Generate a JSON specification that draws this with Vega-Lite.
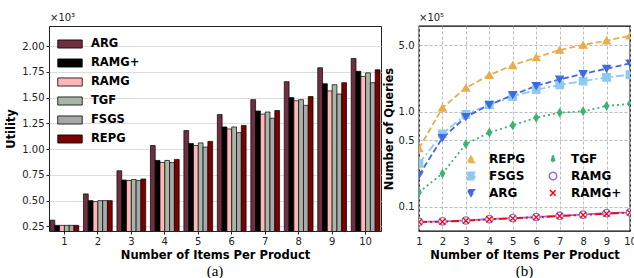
{
  "$schema": "https://vega.github.io/schema/vega-lite/v6.json",
  "padding": {"left": 5, "top": 12, "right": 0, "bottom": 0},
  "spacing": 0,
  "resolve": {
    "scale": {"fill": "independent", "stroke": "independent", "shape": "independent", "strokeDash": "independent"},
    "legend": {"fill": "independent", "stroke": "independent", "shape": "independent", "strokeDash": "independent"}
  },
  "config": {
    "font": "DejaVu Sans",
    "view": {"stroke": "#222", "strokeWidth": 1},
    "axis": {"labelFont": "DejaVu Sans", "labelFontSize": 10, "labelColor": "#222", "labelOverlap": false, "titleFont": "DejaVu Sans", "titleFontSize": 11.5, "titleFontWeight": "bold", "titleColor": "black", "domain": false, "tickColor": "#222"}
  },
  "datasets": {
    "util": [
      {"items": 1, "method": "ARG", "utility": 0.31}, {"items": 1, "method": "RAMG+", "utility": 0.26}, {"items": 1, "method": "RAMG", "utility": 0.26}, {"items": 1, "method": "TGF", "utility": 0.26}, {"items": 1, "method": "FSGS", "utility": 0.26}, {"items": 1, "method": "REPG", "utility": 0.26},
      {"items": 2, "method": "ARG", "utility": 0.565}, {"items": 2, "method": "RAMG+", "utility": 0.50}, {"items": 2, "method": "RAMG", "utility": 0.49}, {"items": 2, "method": "TGF", "utility": 0.50}, {"items": 2, "method": "FSGS", "utility": 0.50}, {"items": 2, "method": "REPG", "utility": 0.50},
      {"items": 3, "method": "ARG", "utility": 0.79}, {"items": 3, "method": "RAMG+", "utility": 0.70}, {"items": 3, "method": "RAMG", "utility": 0.695}, {"items": 3, "method": "TGF", "utility": 0.705}, {"items": 3, "method": "FSGS", "utility": 0.695}, {"items": 3, "method": "REPG", "utility": 0.71},
      {"items": 4, "method": "ARG", "utility": 1.035}, {"items": 4, "method": "RAMG+", "utility": 0.89}, {"items": 4, "method": "RAMG", "utility": 0.87}, {"items": 4, "method": "TGF", "utility": 0.89}, {"items": 4, "method": "FSGS", "utility": 0.87}, {"items": 4, "method": "REPG", "utility": 0.90},
      {"items": 5, "method": "ARG", "utility": 1.18}, {"items": 5, "method": "RAMG+", "utility": 1.055}, {"items": 5, "method": "RAMG", "utility": 1.035}, {"items": 5, "method": "TGF", "utility": 1.06}, {"items": 5, "method": "FSGS", "utility": 1.02}, {"items": 5, "method": "REPG", "utility": 1.075},
      {"items": 6, "method": "ARG", "utility": 1.335}, {"items": 6, "method": "RAMG+", "utility": 1.215}, {"items": 6, "method": "RAMG", "utility": 1.195}, {"items": 6, "method": "TGF", "utility": 1.215}, {"items": 6, "method": "FSGS", "utility": 1.16}, {"items": 6, "method": "REPG", "utility": 1.23},
      {"items": 7, "method": "ARG", "utility": 1.48}, {"items": 7, "method": "RAMG+", "utility": 1.37}, {"items": 7, "method": "RAMG", "utility": 1.34}, {"items": 7, "method": "TGF", "utility": 1.36}, {"items": 7, "method": "FSGS", "utility": 1.30}, {"items": 7, "method": "REPG", "utility": 1.375},
      {"items": 8, "method": "ARG", "utility": 1.655}, {"items": 8, "method": "RAMG+", "utility": 1.50}, {"items": 8, "method": "RAMG", "utility": 1.47}, {"items": 8, "method": "TGF", "utility": 1.48}, {"items": 8, "method": "FSGS", "utility": 1.425}, {"items": 8, "method": "REPG", "utility": 1.51},
      {"items": 9, "method": "ARG", "utility": 1.79}, {"items": 9, "method": "RAMG+", "utility": 1.635}, {"items": 9, "method": "RAMG", "utility": 1.565}, {"items": 9, "method": "TGF", "utility": 1.625}, {"items": 9, "method": "FSGS", "utility": 1.535}, {"items": 9, "method": "REPG", "utility": 1.645},
      {"items": 10, "method": "ARG", "utility": 1.88}, {"items": 10, "method": "RAMG+", "utility": 1.755}, {"items": 10, "method": "RAMG", "utility": 1.705}, {"items": 10, "method": "TGF", "utility": 1.74}, {"items": 10, "method": "FSGS", "utility": 1.645}, {"items": 10, "method": "REPG", "utility": 1.77}
    ],
    "queries": [
      {"items": 1, "method": "REPG", "q": 0.41}, {"items": 2, "method": "REPG", "q": 1.1}, {"items": 3, "method": "REPG", "q": 1.78}, {"items": 4, "method": "REPG", "q": 2.43}, {"items": 5, "method": "REPG", "q": 3.08}, {"items": 6, "method": "REPG", "q": 3.72}, {"items": 7, "method": "REPG", "q": 4.46}, {"items": 8, "method": "REPG", "q": 5.04}, {"items": 9, "method": "REPG", "q": 5.6}, {"items": 10, "method": "REPG", "q": 6.3},
      {"items": 1, "method": "TGF", "q": 0.142}, {"items": 2, "method": "TGF", "q": 0.224}, {"items": 3, "method": "TGF", "q": 0.456}, {"items": 4, "method": "TGF", "q": 0.605}, {"items": 5, "method": "TGF", "q": 0.72}, {"items": 6, "method": "TGF", "q": 0.865}, {"items": 7, "method": "TGF", "q": 0.976}, {"items": 8, "method": "TGF", "q": 1.01}, {"items": 9, "method": "TGF", "q": 1.15}, {"items": 10, "method": "TGF", "q": 1.21},
      {"items": 1, "method": "FSGS", "q": 0.285}, {"items": 2, "method": "FSGS", "q": 0.585}, {"items": 3, "method": "FSGS", "q": 0.935}, {"items": 4, "method": "FSGS", "q": 1.19}, {"items": 5, "method": "FSGS", "q": 1.44}, {"items": 6, "method": "FSGS", "q": 1.71}, {"items": 7, "method": "FSGS", "q": 1.91}, {"items": 8, "method": "FSGS", "q": 2.1}, {"items": 9, "method": "FSGS", "q": 2.3}, {"items": 10, "method": "FSGS", "q": 2.45},
      {"items": 1, "method": "ARG", "q": 0.215}, {"items": 2, "method": "ARG", "q": 0.53}, {"items": 3, "method": "ARG", "q": 0.88}, {"items": 4, "method": "ARG", "q": 1.18}, {"items": 5, "method": "ARG", "q": 1.5}, {"items": 6, "method": "ARG", "q": 1.87}, {"items": 7, "method": "ARG", "q": 2.19}, {"items": 8, "method": "ARG", "q": 2.5}, {"items": 9, "method": "ARG", "q": 2.84}, {"items": 10, "method": "ARG", "q": 3.23},
      {"items": 1, "method": "RAMG", "q": 0.0695}, {"items": 2, "method": "RAMG", "q": 0.0700}, {"items": 3, "method": "RAMG", "q": 0.0716}, {"items": 4, "method": "RAMG", "q": 0.0741}, {"items": 5, "method": "RAMG", "q": 0.0759}, {"items": 6, "method": "RAMG", "q": 0.0779}, {"items": 7, "method": "RAMG", "q": 0.0804}, {"items": 8, "method": "RAMG", "q": 0.0826}, {"items": 9, "method": "RAMG", "q": 0.0857}, {"items": 10, "method": "RAMG", "q": 0.0871},
      {"items": 1, "method": "RAMG+", "q": 0.069}, {"items": 2, "method": "RAMG+", "q": 0.0695}, {"items": 3, "method": "RAMG+", "q": 0.0712}, {"items": 4, "method": "RAMG+", "q": 0.0737}, {"items": 5, "method": "RAMG+", "q": 0.0755}, {"items": 6, "method": "RAMG+", "q": 0.0773}, {"items": 7, "method": "RAMG+", "q": 0.0798}, {"items": 8, "method": "RAMG+", "q": 0.0818}, {"items": 9, "method": "RAMG+", "q": 0.0844}, {"items": 10, "method": "RAMG+", "q": 0.0865}
    ]
  },
  "hconcat": [
    {
      "width": 332,
      "height": 205,
      "title": {"text": "(a)", "orient": "bottom", "font": "Liberation Serif", "fontSize": 15, "fontWeight": "normal", "color": "black", "offset": 3},
      "layer": [
        {
          "data": {"name": "util"},
          "mark": {"type": "bar", "clip": true, "stroke": "black", "strokeWidth": 0.7},
          "encoding": {
            "x": {"field": "items", "type": "ordinal", "scale": {"paddingInner": 0.14, "paddingOuter": 0.03},
                  "axis": {"title": "Number of Items Per Product", "labelAngle": 0, "tickSize": 3, "labelPadding": 2, "titlePadding": 3, "labelOverlap": false}},
            "xOffset": {"field": "method", "type": "nominal", "sort": ["ARG", "RAMG+", "RAMG", "TGF", "FSGS", "REPG"], "scale": {"paddingInner": 0, "paddingOuter": 0}},
            "y": {"field": "utility", "type": "quantitative", "scale": {"domain": [0.205, 2.195], "zero": false, "nice": false},
                  "axis": {"title": "Utility", "values": [0.25, 0.5, 0.75, 1.0, 1.25, 1.5, 1.75, 2.0], "tickCount": 20, "format": ".2f", "tickSize": 3, "labelPadding": 2, "titlePadding": 5, "labelOverlap": false}},
            "fill": {"field": "method", "type": "nominal",
                     "scale": {"domain": ["ARG", "RAMG+", "RAMG", "TGF", "FSGS", "REPG"], "range": ["#6e3040", "#000000", "#ffb6b6", "#a9b5a6", "#a8a8a8", "#7b0000"]},
                     "legend": {"title": null, "orient": "none", "legendX": 8, "legendY": 5, "symbolType": "M-1,-0.33H1V0.33H-1Z", "symbolSize": 600, "symbolStrokeColor": "black", "symbolStrokeWidth": 0.8, "symbolOpacity": 1, "labelFont": "DejaVu Sans", "labelFontWeight": "bold", "labelFontSize": 11.5, "labelColor": "black", "labelOffset": 8, "rowPadding": -7}}
          }
        },
        {
          "data": {"values": [{"t": "×10³"}]},
          "mark": {"type": "text", "align": "left", "baseline": "alphabetic", "dy": -5, "fontSize": 10, "color": "#222"},
          "encoding": {
            "text": {"field": "t"},
            "x": {"datum": 1, "type": "ordinal", "bandPosition": 0},
            "y": {"datum": 2.195, "type": "quantitative"}
          }
        }
      ]
    },
    {
      "width": 211,
      "height": 205,
      "title": {"text": "(b)", "orient": "bottom", "font": "Liberation Serif", "fontSize": 15, "fontWeight": "normal", "color": "black", "offset": 3},
      "view": {"stroke": "black", "strokeWidth": 1.3},
      "layer": [
        {
          "data": {"name": "queries"},
          "mark": {"type": "line", "strokeWidth": 1.8, "clip": true},
          "encoding": {
            "x": {"field": "items", "type": "quantitative", "scale": {"domain": [1, 10], "nice": false},
                  "axis": {"title": "Number of Items Per Product", "values": [1, 2, 3, 4, 5, 6, 7, 8, 9, 10], "tickCount": 20, "format": "d", "grid": true, "gridDash": [3, 2], "gridColor": "#bbbbbb", "ticks": false, "labelPadding": 5, "titlePadding": 3, "labelFlush": false, "labelOverlap": false}},
            "y": {"field": "q", "type": "quantitative", "scale": {"type": "log", "domain": [0.0555, 7.98], "nice": false},
                  "axis": {"title": "Number of Queries", "values": [0.1, 0.5, 1, 5], "tickCount": 20, "format": ".1f", "grid": true, "gridDash": [3, 2], "gridColor": "#bbbbbb", "ticks": false, "labelPadding": 5, "titlePadding": 4, "labelOverlap": false}},
            "stroke": {"field": "method", "type": "nominal",
                       "scale": {"domain": ["REPG", "FSGS", "ARG", "TGF", "RAMG", "RAMG+"], "range": ["#e8ae4c", "#8ecaf0", "#4169e1", "#3cb371", "#9370db", "#ff0000"]},
                       "legend": {"title": null, "orient": "none", "legendX": 46, "legendY": 127, "columns": 2, "columnPadding": 20, "rowPadding": 3, "symbolSize": 55, "symbolStrokeWidth": 1.5, "labelFont": "DejaVu Sans", "labelFontWeight": "bold", "labelFontSize": 12, "labelColor": "black", "labelOffset": 12}},
            "strokeDash": {"field": "method", "type": "nominal",
                           "scale": {"domain": ["REPG", "FSGS", "ARG", "TGF", "RAMG", "RAMG+"], "range": [[6, 3], [8, 3, 2, 3], [6, 3], [2, 3], [1, 0], [8, 3, 2, 3]]},
                           "legend": null}
          }
        },
        {
          "data": {"name": "queries"},
          "mark": {"type": "point", "size": 55, "strokeWidth": 1.3, "opacity": 1, "clip": true},
          "encoding": {
            "x": {"field": "items", "type": "quantitative"},
            "y": {"field": "q", "type": "quantitative"},
            "stroke": {"field": "method", "type": "nominal"},
            "fill": {"field": "method", "type": "nominal",
                     "scale": {"domain": ["REPG", "FSGS", "ARG", "TGF", "RAMG", "RAMG+"], "range": ["#e8ae4c", "#8ecaf0", "#4169e1", "#3cb371", "#ffffff", "#ff0000"]}},
            "shape": {"field": "method", "type": "nominal",
                      "scale": {"domain": ["REPG", "FSGS", "ARG", "TGF", "RAMG", "RAMG+"], "range": ["triangle-up", "square", "triangle-down", "M0,-1L0.6,0L0,1L-0.6,0Z", "circle", "M-0.8,-0.8L0.8,0.8M-0.8,0.8L0.8,-0.8"]}}
          }
        },
        {
          "data": {"values": [{"t": "×10⁵"}]},
          "mark": {"type": "text", "align": "left", "baseline": "alphabetic", "dy": -5, "fontSize": 10, "color": "#222"},
          "encoding": {
            "text": {"field": "t"},
            "x": {"datum": 1, "type": "quantitative"},
            "y": {"datum": 7.98, "type": "quantitative"}
          }
        }
      ]
    }
  ]
}
